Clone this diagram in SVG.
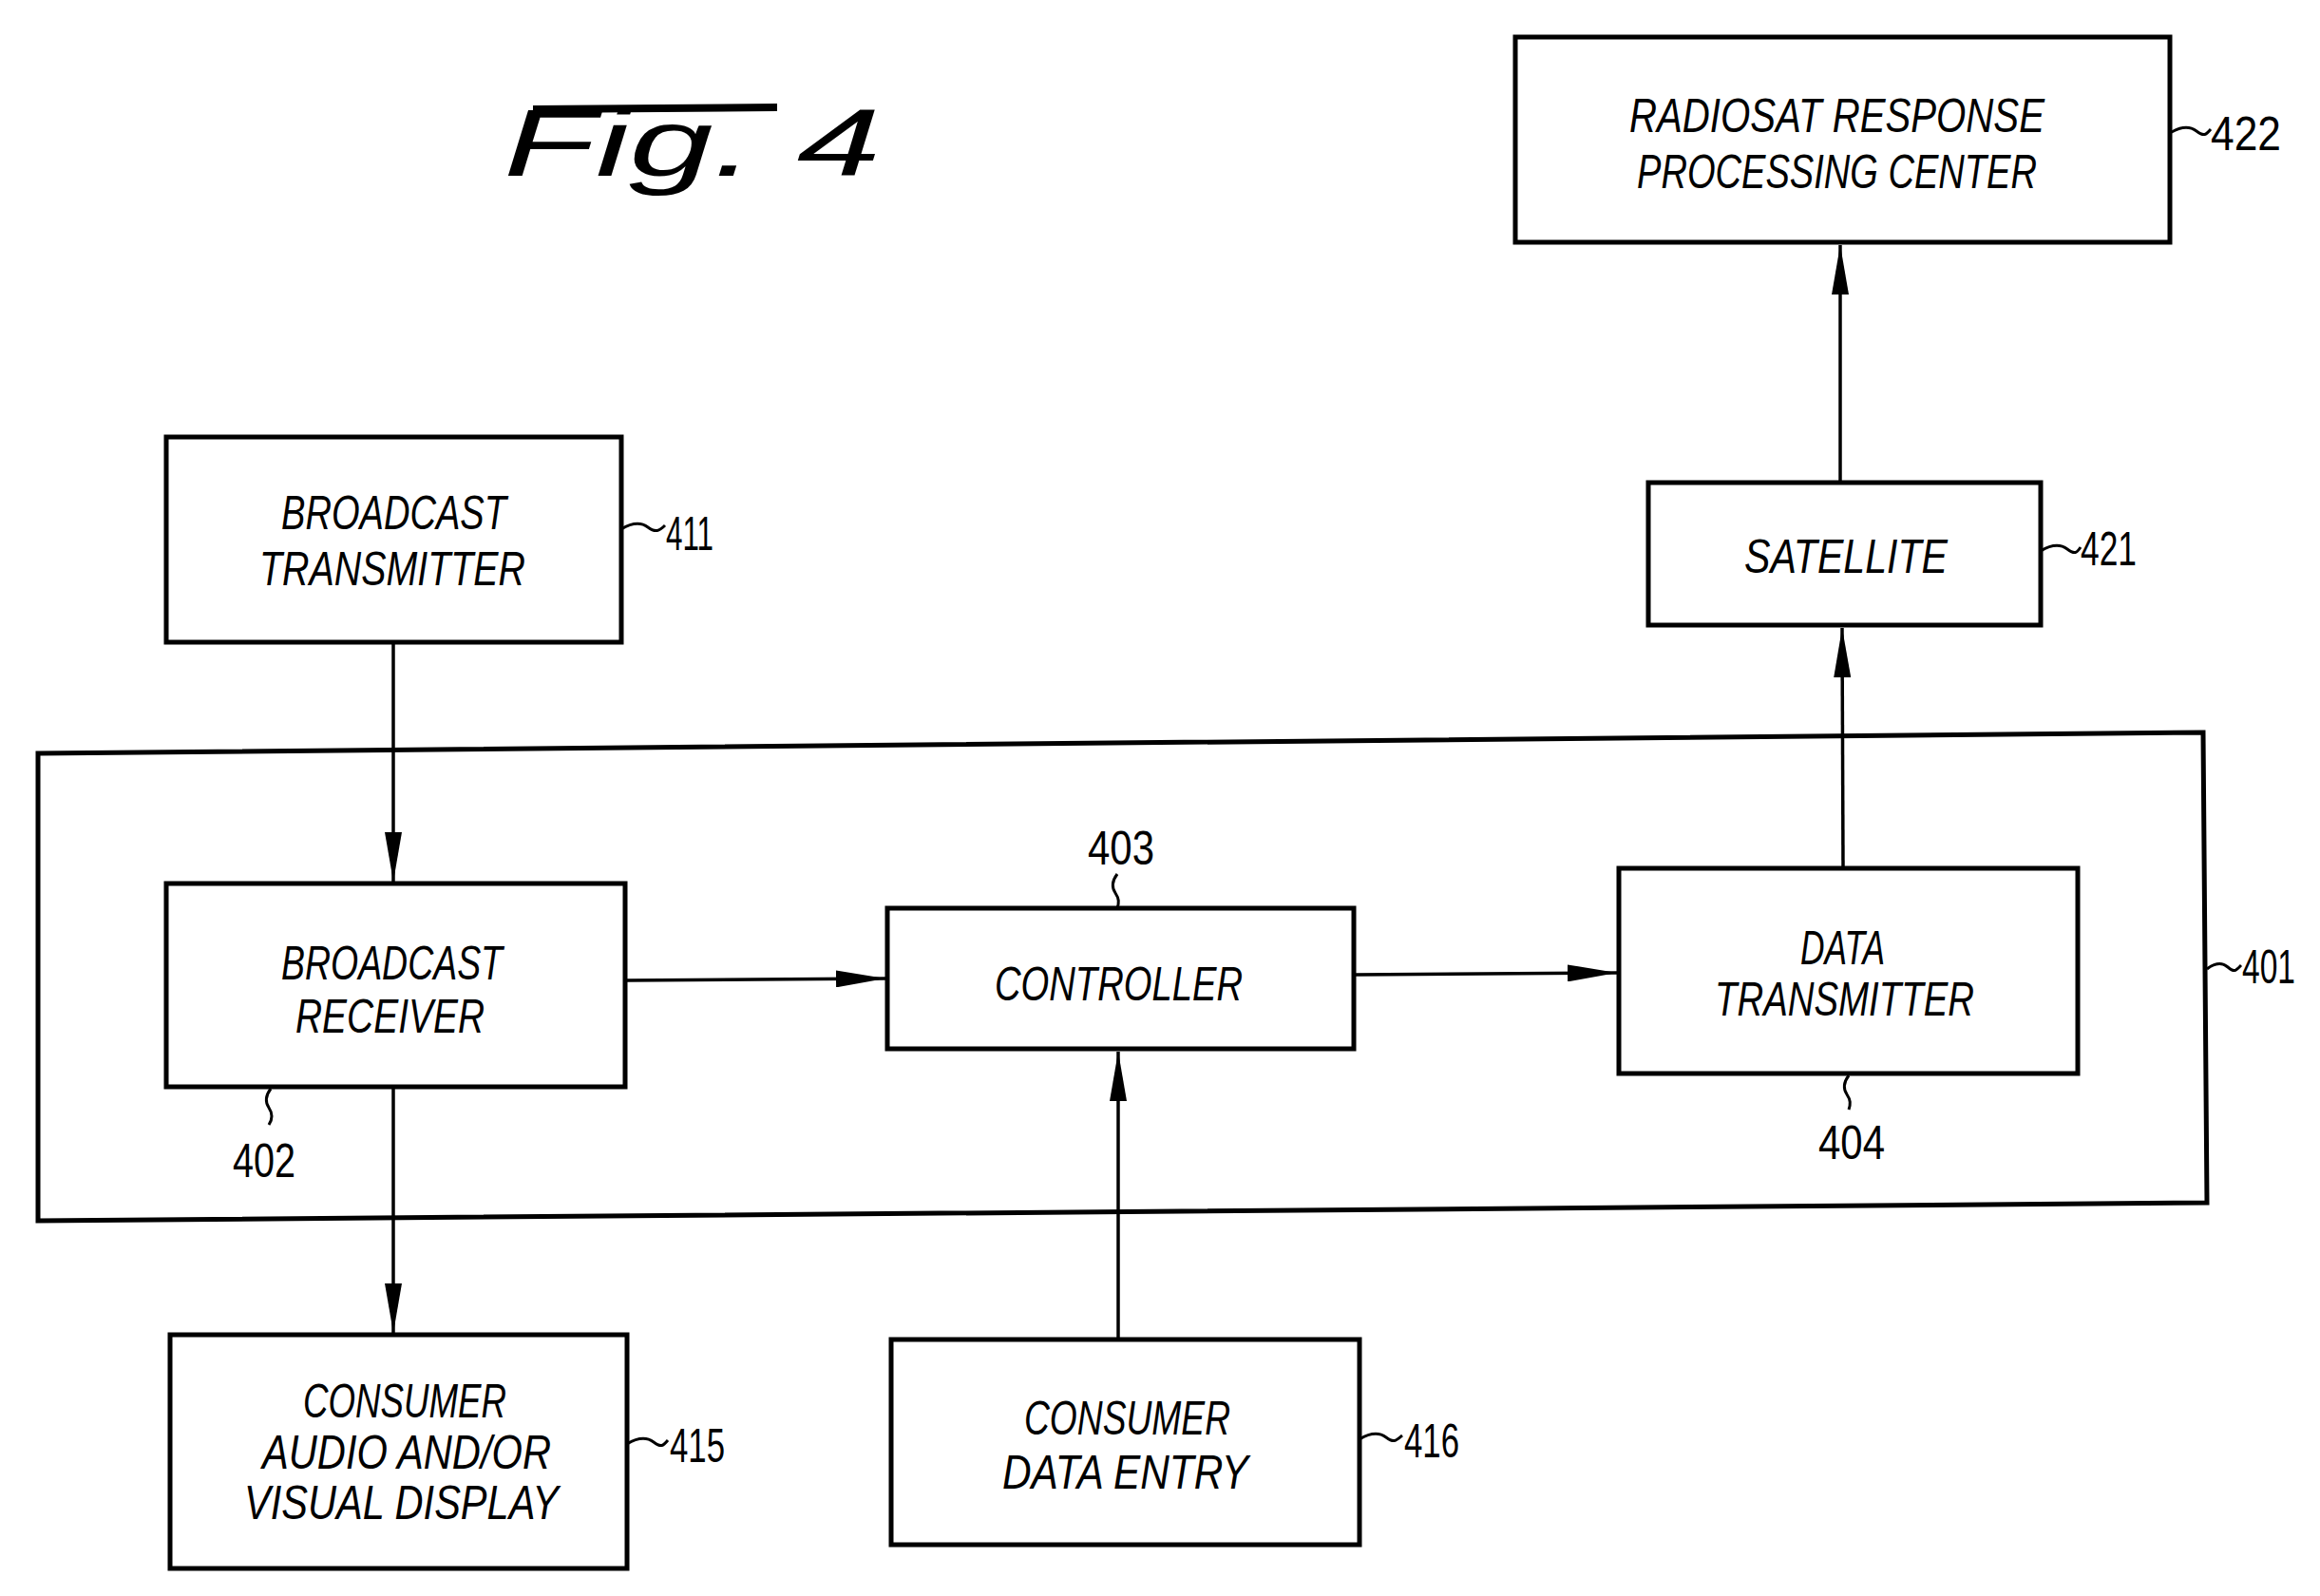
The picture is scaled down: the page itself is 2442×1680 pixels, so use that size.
<svg xmlns="http://www.w3.org/2000/svg" width="2442" height="1680" viewBox="0 0 2442 1680">
<defs>
<style>
.box{fill:none;stroke:#000;stroke-width:5}
.lbl{font-family:"Liberation Sans",Arial,sans-serif;font-style:italic;font-size:50px;fill:#000}
.num{font-family:"Liberation Sans",Arial,sans-serif;font-size:50px;fill:#000}
.conn{fill:none;stroke:#000;stroke-width:3.5}
.lead{fill:none;stroke:#000;stroke-width:3}
</style>
<marker id="ah" viewBox="0 0 52 18" refX="52" refY="9" markerWidth="52" markerHeight="18" markerUnits="userSpaceOnUse" orient="auto">
<path d="M0,0 L52,9 L0,18 Z" fill="#000"/>
</marker>
</defs>
<rect width="2442" height="1680" fill="#fff"/>

<g id="title">
<line x1="561" y1="115" x2="818" y2="113" stroke="#000" stroke-width="8"/>
<text x="530" y="185" font-family="Liberation Sans,Arial,sans-serif" font-style="italic" font-size="100" textLength="397" lengthAdjust="spacingAndGlyphs">Fig. 4</text>
</g>

<g id="n401">
<polygon class="box" points="40,793 2319,771 2323,1266 40,1285"/>
<path class="lead" d="M2323,1020 c8,-6 15,-8 22,-2 s8,4 14,-2"/>
<text class="num" x="2360" y="1035" font-size="46" textLength="56" lengthAdjust="spacingAndGlyphs">401</text>
</g>

<g id="n411">
<rect class="box" x="175" y="460" width="479" height="216"/>
<text class="lbl" x="296" y="557" textLength="237" lengthAdjust="spacingAndGlyphs">BROADCAST</text>
<text class="lbl" x="273" y="616" textLength="280" lengthAdjust="spacingAndGlyphs">TRANSMITTER</text>
<path class="lead" d="M654,557 c10,-6 20,-8 28,-2 s12,4 18,-2"/>
<text class="num" x="701" y="579" textLength="50" lengthAdjust="spacingAndGlyphs">411</text>
</g>

<g id="n422">
<rect class="box" x="1595" y="39" width="689" height="216"/>
<text class="lbl" x="1715" y="139" textLength="437" lengthAdjust="spacingAndGlyphs">RADIOSAT RESPONSE</text>
<text class="lbl" x="1723" y="198" textLength="421" lengthAdjust="spacingAndGlyphs">PROCESSING CENTER</text>
<path class="lead" d="M2284,140 c10,-6 20,-8 28,-2 s10,4 15,-2"/>
<text class="num" x="2327" y="158" textLength="74" lengthAdjust="spacingAndGlyphs">422</text>
</g>

<g id="n421">
<rect class="box" x="1735" y="508" width="413" height="150"/>
<text class="lbl" x="1836" y="603" textLength="214" lengthAdjust="spacingAndGlyphs">SATELLITE</text>
<path class="lead" d="M2148,580 c10,-6 20,-8 28,-2 s10,4 14,-2"/>
<text class="num" x="2190" y="595" textLength="59" lengthAdjust="spacingAndGlyphs">421</text>
</g>

<g id="n402">
<rect class="box" x="175" y="930" width="483" height="214"/>
<text class="lbl" x="296" y="1031" textLength="233" lengthAdjust="spacingAndGlyphs">BROADCAST</text>
<text class="lbl" x="311" y="1087" textLength="199" lengthAdjust="spacingAndGlyphs">RECEIVER</text>
<path class="lead" d="M285,1146 c-6,8 -6,14 -2,20 s4,12 0,18"/>
<text class="num" x="245" y="1239" textLength="66" lengthAdjust="spacingAndGlyphs">402</text>
</g>

<g id="n403">
<rect class="box" x="934" y="956" width="491" height="148"/>
<text class="lbl" x="1047" y="1053" textLength="261" lengthAdjust="spacingAndGlyphs">CONTROLLER</text>
<path class="lead" d="M1176,920 c-6,8 -6,14 -2,20 s4,10 2,16"/>
<text class="num" x="1145" y="910" textLength="70" lengthAdjust="spacingAndGlyphs">403</text>
</g>

<g id="n404">
<rect class="box" x="1704" y="914" width="483" height="216"/>
<text class="lbl" x="1895" y="1015" textLength="89" lengthAdjust="spacingAndGlyphs">DATA</text>
<text class="lbl" x="1805" y="1069" textLength="273" lengthAdjust="spacingAndGlyphs">TRANSMITTER</text>
<path class="lead" d="M1946,1132 c-6,8 -6,14 -2,20 s4,10 2,16"/>
<text class="num" x="1914" y="1220" textLength="70" lengthAdjust="spacingAndGlyphs">404</text>
</g>

<g id="n415">
<rect class="box" x="179" y="1405" width="481" height="246"/>
<text class="lbl" x="319" y="1492" textLength="214" lengthAdjust="spacingAndGlyphs">CONSUMER</text>
<text class="lbl" x="276" y="1546" textLength="304" lengthAdjust="spacingAndGlyphs">AUDIO AND/OR</text>
<text class="lbl" x="257" y="1599" textLength="331" lengthAdjust="spacingAndGlyphs">VISUAL DISPLAY</text>
<path class="lead" d="M660,1520 c10,-6 20,-8 28,-2 s10,4 15,-2"/>
<text class="num" x="705" y="1539" textLength="58" lengthAdjust="spacingAndGlyphs">415</text>
</g>

<g id="n416">
<rect class="box" x="938" y="1410" width="493" height="216"/>
<text class="lbl" x="1078" y="1510" textLength="217" lengthAdjust="spacingAndGlyphs">CONSUMER</text>
<text class="lbl" x="1055" y="1567" textLength="259" lengthAdjust="spacingAndGlyphs">DATA ENTRY</text>
<path class="lead" d="M1431,1515 c10,-6 20,-8 28,-2 s10,4 17,-2"/>
<text class="num" x="1478" y="1534" textLength="58" lengthAdjust="spacingAndGlyphs">416</text>
</g>

<g id="connectors">
<line class="conn" x1="414" y1="678" x2="414" y2="928" marker-end="url(#ah)"/>
<line class="conn" x1="660" y1="1032" x2="932" y2="1030" marker-end="url(#ah)"/>
<line class="conn" x1="1427" y1="1026" x2="1702" y2="1024" marker-end="url(#ah)"/>
<line class="conn" x1="1940" y1="912" x2="1939" y2="661" marker-end="url(#ah)"/>
<line class="conn" x1="1937" y1="506" x2="1937" y2="258" marker-end="url(#ah)"/>
<line class="conn" x1="414" y1="1146" x2="414" y2="1403" marker-end="url(#ah)"/>
<line class="conn" x1="1177" y1="1408" x2="1177" y2="1107" marker-end="url(#ah)"/>
</g>
</svg>
